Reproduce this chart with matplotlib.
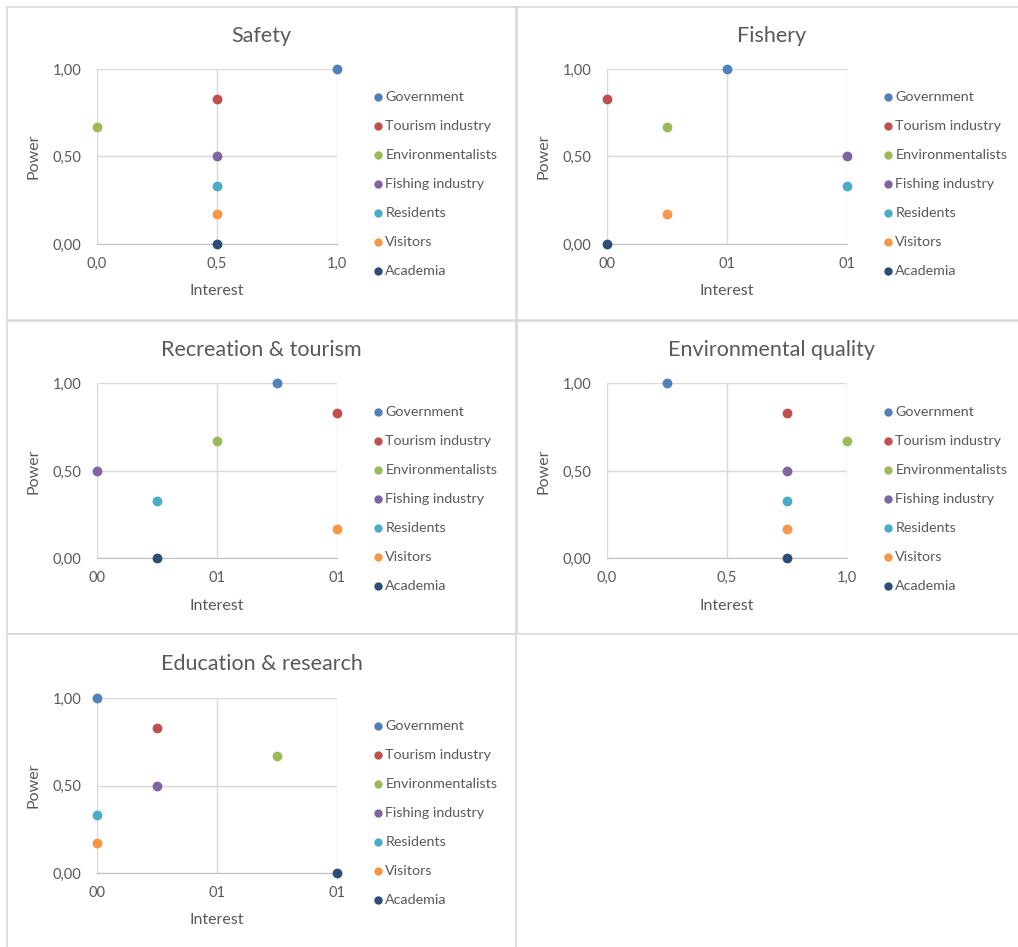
import matplotlib
matplotlib.use("Agg")
import matplotlib.pyplot as plt
from matplotlib.lines import Line2D

# Stakeholder groups and their power (same in every issue)
stakeholders = ["Government", "Tourism industry", "Environmentalists",
                "Fishing industry", "Residents", "Visitors", "Academia"]
power = [1.0, 0.83, 0.67, 0.5, 0.33, 0.17, 0.0]
colors = ["#4F81BD", "#C0504D", "#9BBB59", "#8064A2", "#4BACC6", "#F79646", "#2C4D75"]

# Interest of each group per issue
issues = ["Safety", "Fishery", "Recreation & tourism",
          "Environmental quality", "Education & research"]
interest_safety = [1.0, 0.5, 0.0, 0.5, 0.5, 0.5, 0.5]
interest_fishery = [0.5, 0.0, 0.25, 1.0, 1.0, 0.25, 0.0]
interest_recreation = [0.75, 1.0, 0.5, 0.0, 0.25, 1.0, 0.25]
interest_environment = [0.25, 0.75, 1.0, 0.75, 0.75, 0.75, 0.75]
interest_education = [0.0, 0.25, 0.75, 0.25, 0.0, 0.0, 1.0]

x_ticks = [0.0, 0.5, 1.0]
y_ticks = [0.0, 0.5, 1.0]
y_ticklabels = ["0,00", "0,50", "1,00"]
x_labels_decimal = ["0,0", "0,5", "1,0"]
x_labels_integer = ["00", "01", "01"]

W, H = 1018, 947
TEXT = "#595959"
GRID = "#D9D9D9"
plt.rcParams["font.family"] = ["Lato", "DejaVu Sans"]

fig = plt.figure(figsize=(W / 100, H / 100), dpi=100)


def fx(px):
    return px / W


def fy(py):
    return 1 - py / H


# chart frames (pixel boxes: left, right, top, bottom)
frames = [(7, 516, 7, 320), (517, 1022, 7, 320),
          (7, 516, 321, 634), (517, 1022, 321, 634),
          (7, 516, 634, 952)]
for l, r, t, b in frames:
    for xs, ys in [((l, r), (t, t)), ((l, r), (b, b)), ((l, l), (t, b)), ((r, r), (t, b))]:
        fig.add_artist(Line2D([fx(xs[0]), fx(xs[1])], [fy(ys[0]), fy(ys[1])],
                              color=GRID, lw=1.2))

panels = [
    (issues[0], interest_safety, x_labels_decimal, 0, 0),
    (issues[1], interest_fishery, x_labels_integer, 1, 0),
    (issues[2], interest_recreation, x_labels_integer, 0, 1),
    (issues[3], interest_environment, x_labels_decimal, 1, 1),
    (issues[4], interest_education, x_labels_integer, 0, 2),
]

for title, interest, xlabels, col, row in panels:
    ox = 97 + col * 510
    oy = 69 + row * 314.5
    pw, ph = 240, 175
    ax = fig.add_axes([fx(ox), fy(oy + ph), pw / W, ph / H])
    ax.set_xlim(0, 1)
    ax.set_ylim(0, 1)
    ax.set_xticks(x_ticks)
    ax.set_xticklabels(xlabels)
    ax.set_yticks(y_ticks)
    ax.set_yticklabels(y_ticklabels)
    ax.tick_params(length=0, labelsize=10.5, labelcolor=TEXT, pad=9)
    ax.tick_params(axis="y", pad=11)
    ax.grid(True, color=GRID, lw=1)
    ax.set_axisbelow(True)
    for s in ["top", "right", "left"]:
        ax.spines[s].set_visible(False)
    ax.spines["bottom"].set_color("#BFBFBF")

    for name, xv, yv, c in zip(stakeholders, interest, power, colors):
        ax.scatter(xv, yv, s=50, color=c, label=name, clip_on=False, zorder=3,
                   linewidths=0)

    ax.set_xlabel("Interest", fontsize=11.5, color=TEXT, labelpad=10)
    ax.set_ylabel("Power", fontsize=11.5, color=TEXT, labelpad=9)

    cx = 261.5 + col * 510
    fig.text(fx(cx), fy(36 + row * 314), title, ha="center", va="center",
             fontsize=15.5, color=TEXT)

    ax.legend(loc="upper left", bbox_to_anchor=(fx(ox + 277), fy(oy + 22)),
              bbox_transform=fig.transFigure, frameon=False, fontsize=10.3,
              labelcolor=TEXT, handlelength=0.5, handletextpad=0.3,
              borderpad=0, borderaxespad=0, labelspacing=1.19,
              markerscale=0.85)

fig.savefig("out.png", dpi=100, facecolor="white")
